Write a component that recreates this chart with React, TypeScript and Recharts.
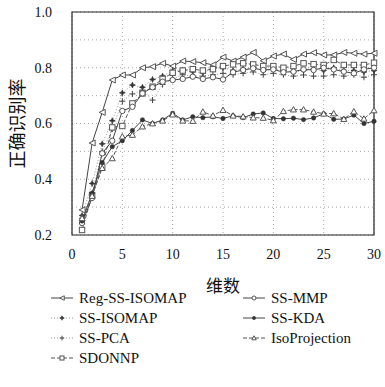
import React from "react";
import { LineChart, Line, XAxis, YAxis, CartesianGrid, ReferenceArea } from "recharts";

const DIMS = [1, 2, 3, 4, 5, 6, 7, 8, 9, 10, 11, 12, 13, 14, 15, 16, 17, 18, 19, 20, 21, 22, 23, 24, 25, 26, 27, 28, 29, 30];

const REG_SS_ISOMAP = [0.29, 0.53, 0.64, 0.756, 0.774, 0.774, 0.8, 0.804, 0.816, 0.806, 0.824, 0.822, 0.818, 0.81, 0.838, 0.824, 0.838, 0.855, 0.825, 0.842, 0.849, 0.83, 0.849, 0.854, 0.846, 0.846, 0.855, 0.852, 0.849, 0.852];
const SS_ISOMAP = [0.27, 0.385, 0.527, 0.61, 0.71, 0.738, 0.73, 0.758, 0.77, 0.79, 0.792, 0.786, 0.782, 0.798, 0.8, 0.79, 0.795, 0.8, 0.79, 0.795, 0.79, 0.785, 0.79, 0.795, 0.79, 0.8, 0.79, 0.79, 0.785, 0.79];
const SS_PCA = [0.26, 0.35, 0.5, 0.58, 0.68, 0.706, 0.72, 0.684, 0.74, 0.76, 0.775, 0.77, 0.77, 0.775, 0.78, 0.775, 0.78, 0.785, 0.775, 0.78, 0.775, 0.77, 0.774, 0.77, 0.77, 0.775, 0.77, 0.775, 0.766, 0.775];
const SDONNP = [0.218, 0.343, 0.445, 0.586, 0.591, 0.672, 0.708, 0.732, 0.76, 0.782, 0.79, 0.795, 0.79, 0.795, 0.806, 0.812, 0.816, 0.812, 0.806, 0.806, 0.8, 0.806, 0.816, 0.813, 0.81, 0.828, 0.81, 0.81, 0.81, 0.818];
const SS_MMP = [0.243, 0.333, 0.493, 0.538, 0.645, 0.66, 0.708, 0.73, 0.75, 0.756, 0.76, 0.768, 0.76, 0.766, 0.758, 0.784, 0.792, 0.798, 0.792, 0.794, 0.784, 0.786, 0.794, 0.792, 0.8, 0.794, 0.786, 0.78, 0.794, 0.8];
const SS_KDA = [0.25, 0.35, 0.46, 0.517, 0.538, 0.575, 0.613, 0.6, 0.613, 0.637, 0.613, 0.624, 0.621, 0.624, 0.618, 0.628, 0.621, 0.634, 0.638, 0.618, 0.617, 0.619, 0.614, 0.62, 0.635, 0.615, 0.616, 0.63, 0.6, 0.608];
const ISOPROJECTION = [0.26, 0.34, 0.44, 0.475, 0.553, 0.559, 0.589, 0.6, 0.61, 0.632, 0.61, 0.609, 0.642, 0.628, 0.648, 0.628, 0.625, 0.621, 0.62, 0.611, 0.644, 0.65, 0.65, 0.642, 0.635, 0.636, 0.616, 0.643, 0.617, 0.647];

const X_TICKS = [0, 5, 10, 15, 20, 25, 30];
const Y_TICKS = [0.2, 0.3, 0.4, 0.5, 0.6, 0.7, 0.8, 0.9, 1.0];

const data = DIMS.map((d, i) => ({
  dim: d,
  reg: REG_SS_ISOMAP[i],
  ssisomap: SS_ISOMAP[i],
  sspca: SS_PCA[i],
  sdonnp: SDONNP[i],
  ssmmp: SS_MMP[i],
  sskda: SS_KDA[i],
  iso: ISOPROJECTION[i],
}));

const MK = "#555";

// marker shapes, s = scale
function marker(shape: string, cx: number, cy: number, key?: string, s = 1) {
  const r = 3 * s;
  switch (shape) {
    case "triLeft":
      return <polygon key={key} points={`${cx - r},${cy} ${cx + r},${cy - r} ${cx + r},${cy + r}`} fill="#fff" stroke={MK} strokeWidth={1} />;
    case "star":
      return (
        <polygon
          key={key}
          points={`${cx},${cy - r} ${cx + 0.9 * s},${cy - 0.9 * s} ${cx + r},${cy} ${cx + 0.9 * s},${cy + 0.9 * s} ${cx},${cy + r} ${cx - 0.9 * s},${cy + 0.9 * s} ${cx - r},${cy} ${cx - 0.9 * s},${cy - 0.9 * s}`}
          fill="#333"
          stroke="#333"
          strokeWidth={0.6}
        />
      );
    case "plus":
      return (
        <g key={key} stroke="#444" strokeWidth={1}>
          <line x1={cx - r} y1={cy} x2={cx + r} y2={cy} />
          <line x1={cx} y1={cy - r} x2={cx} y2={cy + r} />
        </g>
      );
    case "square":
      return <rect key={key} x={cx - 2.7 * s} y={cy - 2.7 * s} width={5.4 * s} height={5.4 * s} fill="#fff" stroke={MK} strokeWidth={1} />;
    case "circle":
      return <circle key={key} cx={cx} cy={cy} r={2.7 * s} fill="#fff" stroke={MK} strokeWidth={1} />;
    case "dot":
      return <circle key={key} cx={cx} cy={cy} r={2.2 * s} fill="#333" stroke="#333" strokeWidth={0.5} />;
    case "triUp":
      return <polygon key={key} points={`${cx},${cy - r} ${cx + r},${cy + r * 0.8} ${cx - r},${cy + r * 0.8}`} fill="#fff" stroke={MK} strokeWidth={1} />;
    default:
      return <g key={key} />;
  }
}

const SERIES = [
  { key: "reg", name: "Reg-SS-ISOMAP", shape: "triLeft", stroke: "#444", dash: undefined },
  { key: "ssisomap", name: "SS-ISOMAP", shape: "star", stroke: "#999", dash: "1 2" },
  { key: "sspca", name: "SS-PCA", shape: "plus", stroke: "#999", dash: "1 2" },
  { key: "sdonnp", name: "SDONNP", shape: "square", stroke: "#555", dash: "4 2" },
  { key: "ssmmp", name: "SS-MMP", shape: "circle", stroke: "#444", dash: undefined },
  { key: "sskda", name: "SS-KDA", shape: "dot", stroke: "#444", dash: undefined },
  { key: "iso", name: "IsoProjection", shape: "triUp", stroke: "#555", dash: "4 2" },
];

const LEGEND_COLS = [
  ["reg", "ssisomap", "sspca", "sdonnp"],
  ["ssmmp", "sskda", "iso"],
];

const SERIF = "'Liberation Serif', 'DejaVu Serif', serif";
const CJK = "'Noto Sans CJK SC', sans-serif";

function LegendItem({ s }: { s: (typeof SERIES)[number] }) {
  return (
    <div style={{ display: "flex", alignItems: "center", height: 20 }}>
      <svg width={22} height={12} style={{ marginRight: 6 }}>
        <line x1={0} y1={6} x2={22} y2={6} stroke={s.stroke} strokeWidth={1} strokeDasharray={s.dash} />
        {marker(s.shape, 11, 6, undefined, 0.75)}
      </svg>
      <span style={{ fontFamily: SERIF, fontSize: 15, color: "#111", lineHeight: "20px" }}>{s.name}</span>
    </div>
  );
}

export default function App() {
  return (
    <div style={{ position: "relative", width: 385, height: 387, background: "#fff" }}>
      <style>{"body{margin:0}"}</style>
      <LineChart width={385} height={387} data={data} margin={{ top: 12, right: 11, bottom: 95, left: 0 }}>
        <CartesianGrid stroke="#aaa" strokeDasharray="1 3" />
        <XAxis
          dataKey="dim"
          type="number"
          domain={[0, 30]}
          ticks={X_TICKS}
          tickLine={false}
          tickSize={6}
          tickMargin={8}
          axisLine={false}
          height={57}
          tick={{ fontFamily: SERIF, fontSize: 14, fill: "#111" }}
          label={{ value: "维数", position: "insideBottom", offset: 0, style: { fontFamily: CJK, fontSize: 17, fill: "#111" } }}
        />
        <YAxis
          type="number"
          domain={[0.2, 1.0]}
          ticks={Y_TICKS}
          interval={0}
          tickLine={false}
          tickSize={6}
          tickMargin={14}
          axisLine={false}
          width={72}
          tickFormatter={(v: number) => (Math.round(v * 10) % 2 === 0 ? v.toFixed(1) : "")}
          tick={{ fontFamily: SERIF, fontSize: 14, fill: "#111" }}
          label={{ value: "正确识别率", angle: -90, position: "center", dx: -18, style: { fontFamily: CJK, fontSize: 18, fill: "#111" } }}
        />
        <ReferenceArea x1={0} x2={30} y1={0.2} y2={1.0} fill="none" stroke="#222" strokeWidth={1.2} />
        {SERIES.map((s) => (
          <Line
            key={s.key}
            dataKey={s.key}
            name={s.name}
            type="linear"
            stroke={s.stroke}
            strokeWidth={1}
            strokeDasharray={s.dash}
            isAnimationActive={false}
            dot={(p: any) => marker(s.shape, p.cx, p.cy, `${s.key}-${p.index}`)}
            activeDot={false}
          />
        ))}
      </LineChart>
      <div style={{ position: "absolute", top: 288, left: 51, display: "flex" }}>
        {LEGEND_COLS.map((col, ci) => (
          <div key={ci} style={{ width: ci === 0 ? 192 : 140 }}>
            {col.map((k) => (
              <LegendItem key={k} s={SERIES.find((s) => s.key === k)!} />
            ))}
          </div>
        ))}
      </div>
    </div>
  );
}
